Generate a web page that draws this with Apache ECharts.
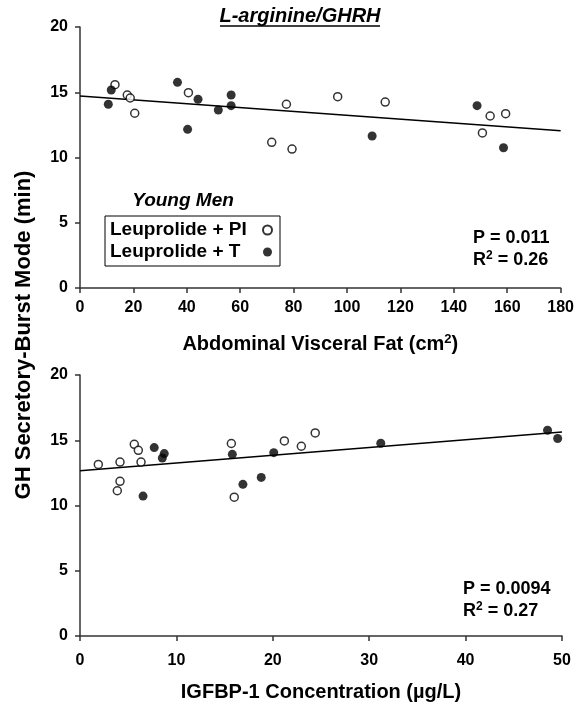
<!DOCTYPE html>
<html>
<head>
<meta charset="utf-8">
<script src="https://cdn.jsdelivr.net/npm/echarts@6/dist/echarts.min.js"></script>
<style>
  html, body { margin: 0; padding: 0; background: #fff; }
  #chart { width: 577px; height: 710px; }
</style>
</head>
<body>
<div id="chart"></div>
<script>
// top panel: abdominal visceral fat (cm2) vs burst mode (min)
const fatPlacebo = [
  [13.1, 15.58], [17.7, 14.79], [18.8, 14.56], [20.5, 13.39], [40.6, 14.97],
  [77.3, 14.08], [71.8, 11.16], [79.4, 10.65], [96.5, 14.66], [114.3, 14.25],
  [153.6, 13.18], [159.4, 13.36], [150.7, 11.88]
];
const fatTestosterone = [
  [10.6, 14.08], [11.7, 15.17], [36.5, 15.76], [40.3, 12.16], [44.2, 14.46],
  [51.8, 13.64], [56.6, 14.79], [56.6, 13.97], [109.4, 11.65], [148.7, 13.97],
  [158.6, 10.75]
];
const fatTrend = [[0, 14.71], [180, 12.05]];

// bottom panel: IGFBP-1 (ug/L) vs burst mode (min)
const igfPlacebo = [
  [1.9, 13.15], [4.15, 13.33], [4.15, 11.85], [3.87, 11.13], [5.63, 14.69],
  [6.05, 14.23], [6.33, 13.33], [15.7, 14.75], [16.0, 10.64], [21.2, 14.95],
  [22.96, 14.54], [24.4, 15.56]
];
const igfTestosterone = [
  [6.54, 10.72], [7.7, 14.44], [8.74, 13.98], [8.54, 13.64], [15.8, 13.92],
  [16.9, 11.62], [18.8, 12.15], [20.1, 14.05], [31.2, 14.77], [48.5, 15.77],
  [49.55, 15.13]
];
const igfTrend = [[0, 12.67], [50, 15.64]];

const groupNames = ['Leuprolide + PI', 'Leuprolide + T'];
const statsTop = ['P = 0.011', '0.26'];
const statsBottom = ['P = 0.0094', '0.27'];

const FONT = '"Liberation Sans", Arial, sans-serif';

const chart = echarts.init(document.getElementById('chart'));

const axisLine = { lineStyle: { color: '#333', width: 1.5 } };
const axisTick = { length: 5, lineStyle: { color: '#333', width: 1.5 } };
const labelStyle = { color: '#000', fontSize: 16, fontWeight: 'bold', fontFamily: FONT };
const supRich = {
  a: { fontSize: 18, fontWeight: 'bold', fontFamily: FONT, color: '#000', lineHeight: 20 },
  s: { fontSize: 12, fontWeight: 'bold', fontFamily: FONT, color: '#000', lineHeight: 13, verticalAlign: 'top' }
};

function xAxisFor(grid, max, interval, margin, name) {
  return {
    type: 'value', gridIndex: grid, min: 0, max: max, interval: interval,
    axisLine: axisLine, axisTick: axisTick, splitLine: { show: false },
    axisLabel: Object.assign({ margin: margin }, labelStyle),
    name: name, nameLocation: 'middle', nameGap: 45,
    nameTextStyle: {
      color: '#000', fontSize: 20, fontWeight: 'bold', fontFamily: FONT,
      rich: {
        a: { fontSize: 20, fontWeight: 'bold', fontFamily: FONT, color: '#000', lineHeight: 22 },
        s: { fontSize: 13, fontWeight: 'bold', fontFamily: FONT, color: '#000', lineHeight: 14, verticalAlign: 'top' }
      }
    }
  };
}

function yAxisFor(grid) {
  return {
    type: 'value', gridIndex: grid, min: 0, max: 20, interval: 5,
    axisLine: axisLine, axisTick: axisTick, splitLine: { show: false },
    axisLabel: Object.assign({ margin: 12 }, labelStyle)
  };
}

const openStyle = { color: '#fff', borderColor: '#000', borderWidth: 1.5 };
const filledStyle = { color: '#000', borderColor: '#000', borderWidth: 0 };

function scatter(name, data, idx, style, size) {
  return {
    name: name, type: 'scatter', xAxisIndex: idx, yAxisIndex: idx,
    data: data, symbol: 'circle', symbolSize: size, itemStyle: style, z: 5
  };
}

function trend(data, idx) {
  return {
    type: 'line', xAxisIndex: idx, yAxisIndex: idx, data: data,
    symbol: 'none', lineStyle: { color: '#000', width: 1.5 }, z: 3, silent: true
  };
}

function statText(left, top, lines) {
  return [
    { type: 'text', left: left, top: top,
      style: { text: lines[0], font: 'bold 18px ' + FONT, fill: '#000' } },
    { type: 'text', left: left, top: top + 21,
      style: { text: '{a|R}{s|2}{a| = ' + lines[1] + '}', rich: supRich } }
  ];
}

const option = {
  animation: false,
  backgroundColor: '#fff',
  grid: [
    { left: 80, right: 15, top: 27, height: 261 },
    { left: 80, right: 15, top: 375, height: 261 }
  ],
  xAxis: [
    xAxisFor(0, 180, 20, 12, '{a|Abdominal Visceral Fat (cm}{s|2}{a|)}'),
    xAxisFor(1, 50, 10, 17, '{a|IGFBP-1 Concentration (\u00b5g/L)}')
  ],
  yAxis: [yAxisFor(0), yAxisFor(1)],
  legend: {
    orient: 'vertical', left: 105, top: 216,
    data: groupNames, align: 'right', selectedMode: false,
    itemWidth: 9, itemHeight: 9, itemGap: 2,
    padding: [4, 7, 4, 5],
    borderColor: '#000', borderWidth: 1,
    formatter: name => '{t|' + name + '}',
    textStyle: {
      color: '#000', fontSize: 19, fontWeight: 'bold', fontFamily: FONT, lineHeight: 20,
      rich: { t: { width: 148, align: 'left', fontSize: 19, fontWeight: 'bold', fontFamily: FONT, color: '#000', lineHeight: 20 } }
    }
  },
  series: [
    scatter(groupNames[0], fatPlacebo, 0, openStyle, 8),
    scatter(groupNames[1], fatTestosterone, 0, filledStyle, 9),
    trend(fatTrend, 0),
    scatter(groupNames[0], igfPlacebo, 1, openStyle, 8),
    scatter(groupNames[1], igfTestosterone, 1, filledStyle, 9),
    trend(igfTrend, 1)
  ],
  graphic: [
    { type: 'text', x: 300, y: 16,
      style: { text: 'L-arginine/GHRH', font: 'italic bold 20px ' + FONT, fill: '#000',
        align: 'center', verticalAlign: 'middle' } },
    { type: 'line', shape: { x1: 220, y1: 26, x2: 380, y2: 26 },
      style: { stroke: '#000', lineWidth: 1.5 } },
    { type: 'text', x: 183, y: 201,
      style: { text: 'Young Men', font: 'italic bold 19px ' + FONT, fill: '#000',
        align: 'center', verticalAlign: 'middle' } },
    { type: 'text', x: 24, y: 335, rotation: Math.PI / 2,
      style: { text: 'GH Secretory-Burst Mode (min)', font: 'bold 22px ' + FONT, fill: '#000',
        align: 'center', verticalAlign: 'middle' } }
  ].concat(statText(473, 229, statsTop), statText(463, 580, statsBottom))
};

chart.setOption(option);
</script>
</body>
</html>
